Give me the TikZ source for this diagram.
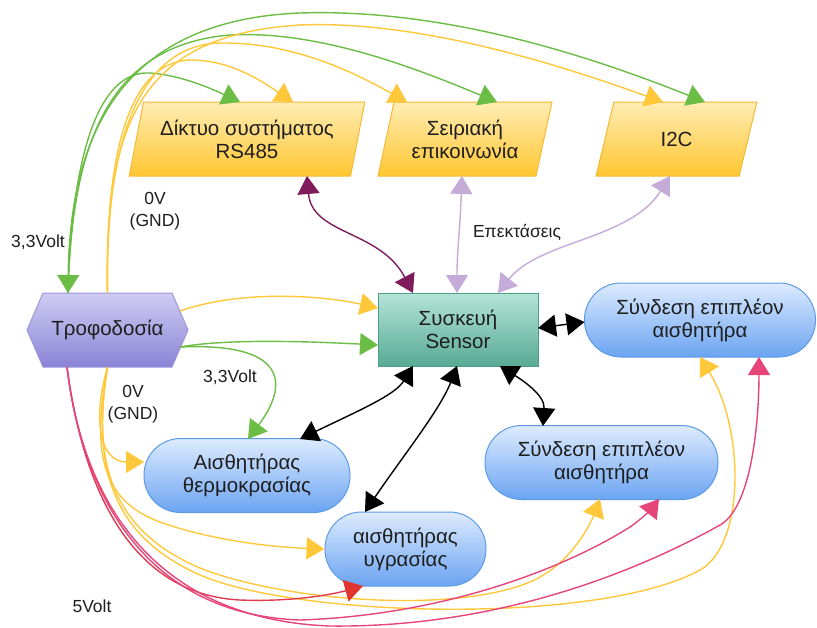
\documentclass[tikz,border=0pt]{standalone}
\usepackage{fontspec}
\setmainfont{Liberation Sans}
\usetikzlibrary{arrows.meta,shapes.geometric,calc}
\definecolor{cgreen}{HTML}{6CBD45}
\definecolor{cyellow}{HTML}{FFC83A}
\definecolor{cpink}{HTML}{E6457A}
\definecolor{credline}{HTML}{E23A4E}
\definecolor{cred}{HTML}{E0352E}
\definecolor{cpurple}{HTML}{7E1C5C}
\definecolor{clav}{HTML}{C4ABD8}
\definecolor{ctxt}{HTML}{1E1E1E}
\definecolor{parTop}{HTML}{FFEDB5}
\definecolor{parBot}{HTML}{FFC630}
\definecolor{parLine}{HTML}{F5B935}
\definecolor{hexTop}{HTML}{CFCDF3}
\definecolor{hexBot}{HTML}{8A83D6}
\definecolor{hexLine}{HTML}{9C96DC}
\definecolor{senTop}{HTML}{B5E4D8}
\definecolor{senBot}{HTML}{58AA94}
\definecolor{senLine}{HTML}{4E9E86}
\definecolor{bluTop}{HTML}{DDEBFE}
\definecolor{bluBot}{HTML}{6BA4F2}
\definecolor{bluLine}{HTML}{5B9BE6}
\tikzset{
 nodetext/.style={font=\fontsize{20.5}{23}\selectfont, align=center, text=ctxt},
 lbl/.style={font=\fontsize{17.5}{22}\selectfont, align=center, text=ctxt},
 para/.style={nodetext, trapezium, trapezium left angle=72.7, trapezium right angle=107.3,
   trapezium stretches=true, draw=parLine, line width=1pt, top color=parTop, bottom color=parBot,
   inner sep=0pt, minimum height=74pt},
 stadium/.style={nodetext, rectangle, rounded corners=36.5pt, draw=bluLine, line width=1pt,
   top color=bluTop, bottom color=bluBot, minimum height=74pt},
 wire/.style={line width=1.4pt},
}
\begin{document}
\begin{tikzpicture}[x=1pt,y=-1pt, >={Triangle[length=18pt,width=22pt]}]
\useasboundingbox (0,0) rectangle (817,627);
% ---------- nodes
\node[para, minimum width=236pt] (rs) at (247,139) {Δίκτυο συστήματος\\RS485};
\node[para, minimum width=174pt] (ser) at (465,139) {Σειριακή\\επικοινωνία};
\node[para, minimum width=161pt] (i2c) at (676.5,139) {I2C};
\path[draw=hexLine, line width=1pt, top color=hexTop, bottom color=hexBot]
  (27,330) -- (43,293) -- (172,293) -- (188,330) -- (172,367) -- (43,367) -- cycle;
\node[nodetext, minimum width=161pt, minimum height=74pt, inner sep=0pt] (hex) at (107.5,330) {Τροφοδοσία};
\node[nodetext, rectangle, draw=senLine, line width=1pt, top color=senTop, bottom color=senBot,
  minimum width=160pt, minimum height=73pt] (sen) at (458,329.5) {Συσκευή\\Sensor};
\node[stadium, minimum width=231pt] (s1) at (700,320) {Σύνδεση επιπλέον\\αισθητήρα};
\node[stadium, minimum width=233pt] (s2) at (601.5,462.5) {Σύνδεση επιπλέον\\αισθητήρα};
\node[stadium, minimum width=206pt] (temp) at (247,475.5) {Αισθητήρας\\θερμοκρασίας};
\node[stadium, minimum width=161pt] (hum) at (405.5,549) {αισθητήρας\\υγρασίας};
% ---------- labels
\node[lbl] (l1) at (155,211) {0V\\(GND)};
\node[lbl] (l2) at (38,242) {3,3Volt};
\node[lbl] (l3) at (517,232) {Επεκτάσεις};
\node[lbl] (l4) at (230,377) {3,3Volt};
\node[lbl] (l5) at (133,404) {0V\\(GND)};
\node[lbl] (l6) at (92,606) {5Volt};
% ---------- green 3,3V to the top
\begin{scope}[wire, cgreen]
\draw[<->] ($(hex)+(-39.5,-37)$) .. controls (70,130) and (125,20) .. (300,13)
   .. controls (450,8) and (600,60) .. ($(i2c)+(28.5,-37)$);
\draw[->] ($(hex)+(-39.5,-37)$) .. controls (72,140) and (110,45) .. (230,35)
   .. controls (320,30) and (420,70) .. ($(ser)+(32,-37)$);
\draw[->] ($(hex)+(-39.5,-37)$) .. controls (72,150) and (100,70) .. (150,73)
   .. controls (180,75) and (210,88) .. ($(rs)+(-7,-37)$);
\draw[->] ($(hex)+(72.5,17)$) .. controls (230,338) and (320,342) .. ($(sen)+(-80,15.5)$);
\draw[->] ($(hex)+(72.5,17)$) .. controls (295,342) and (285,390) .. ($(temp)+(1,-36.5)$);
\end{scope}
% ---------- yellow 0V
\begin{scope}[wire, cyellow]
\draw[->] (hex.north) .. controls (105,130) and (135,35) .. (300,25)
   .. controls (420,20) and (560,65) .. ($(i2c)+(-13.5,-37)$);
\draw[->] (hex.north) .. controls (105,140) and (140,45) .. (220,43)
   .. controls (290,42) and (350,70) .. ($(ser)+(-58,-37)$);
\draw[->] (hex.north) .. controls (105,150) and (130,62) .. (190,60)
   .. controls (230,60) and (260,80) .. ($(rs)+(46,-37)$);
\draw[->] ($(hex)+(72.5,-19)$) .. controls (240,290) and (320,295) .. ($(sen)+(-80,-21.5)$);
\draw[->] (hex.south) .. controls (92,420) and (100,462) .. ($(temp)+(-103,-13.5)$);
\draw[->] (hex.south) .. controls (92,450) and (100,500) .. (160,522)
   .. controls (210,540) and (270,547) .. (hum.west);
\draw[->] (hex.south) .. controls (92,460) and (110,530) .. (200,568)
   .. controls (280,600) and (450,615) .. (530,582)
   .. controls (570,565) and (590,525) .. ($(s2)+(-1.5,36.5)$);
\draw[->] (hex.south) .. controls (92,465) and (110,535) .. (200,575)
   .. controls (300,618) and (600,625) .. (700,570)
   .. controls (745,545) and (745,430) .. ($(s1)+(0,37)$);
\end{scope}
% ---------- 5V
\begin{scope}[wire]
\draw[credline, -{Triangle[length=18pt,width=22pt,color=cred]}] ($(hex)+(-40.5,37)$)
   .. controls (85,505) and (140,595) .. (240,600)
   .. controls (290,602) and (330,595) .. ($(hum)+(-42.5,37)$);
\draw[cpink, ->] ($(hex)+(-40.5,37)$) .. controls (85,515) and (160,615) .. (300,620)
   .. controls (450,615) and (570,565) .. (630,527)
   .. controls (643,518) and (652,508) .. ($(s2)+(57.5,36.5)$);
\draw[cpink, ->] ($(hex)+(-40.5,37)$) .. controls (85,520) and (170,620) .. (330,626)
   .. controls (500,628) and (640,570) .. (720,525)
   .. controls (752,507) and (759,420) .. ($(s1)+(59,37)$);
\end{scope}
% ---------- data links
\begin{scope}[wire]
\draw[<->, cpurple] ($(rs)+(60,37)$) .. controls (312,235) and (380,230) .. ($(sen)+(-45,-36.5)$);
\draw[<->, clav] ($(ser)+(-3,37)$) .. controls (460,230) and (457,250) .. ($(sen)+(-1,-36.5)$);
\draw[<->, clav] ($(i2c)+(-6.5,37)$) .. controls (630,240) and (540,240) .. ($(sen)+(40,-36.5)$);
\draw[<->, black] ($(sen)+(80,-1.5)$) -- ($(s1)+(-115.5,2)$);
\draw[<->, black] ($(sen)+(42,36.5)$) .. controls (522,380) and (545,395) .. ($(s2)+(-58.5,-36.5)$);
\draw[<->, black] ($(sen)+(-1,36.5)$) .. controls (440,410) and (400,460) .. ($(hum)+(-40.5,-37)$);
\draw[<->, black] ($(sen)+(-45,36.5)$) .. controls (395,395) and (360,410) .. ($(temp)+(53,-36.5)$);
\end{scope}
\end{tikzpicture}
\end{document}
